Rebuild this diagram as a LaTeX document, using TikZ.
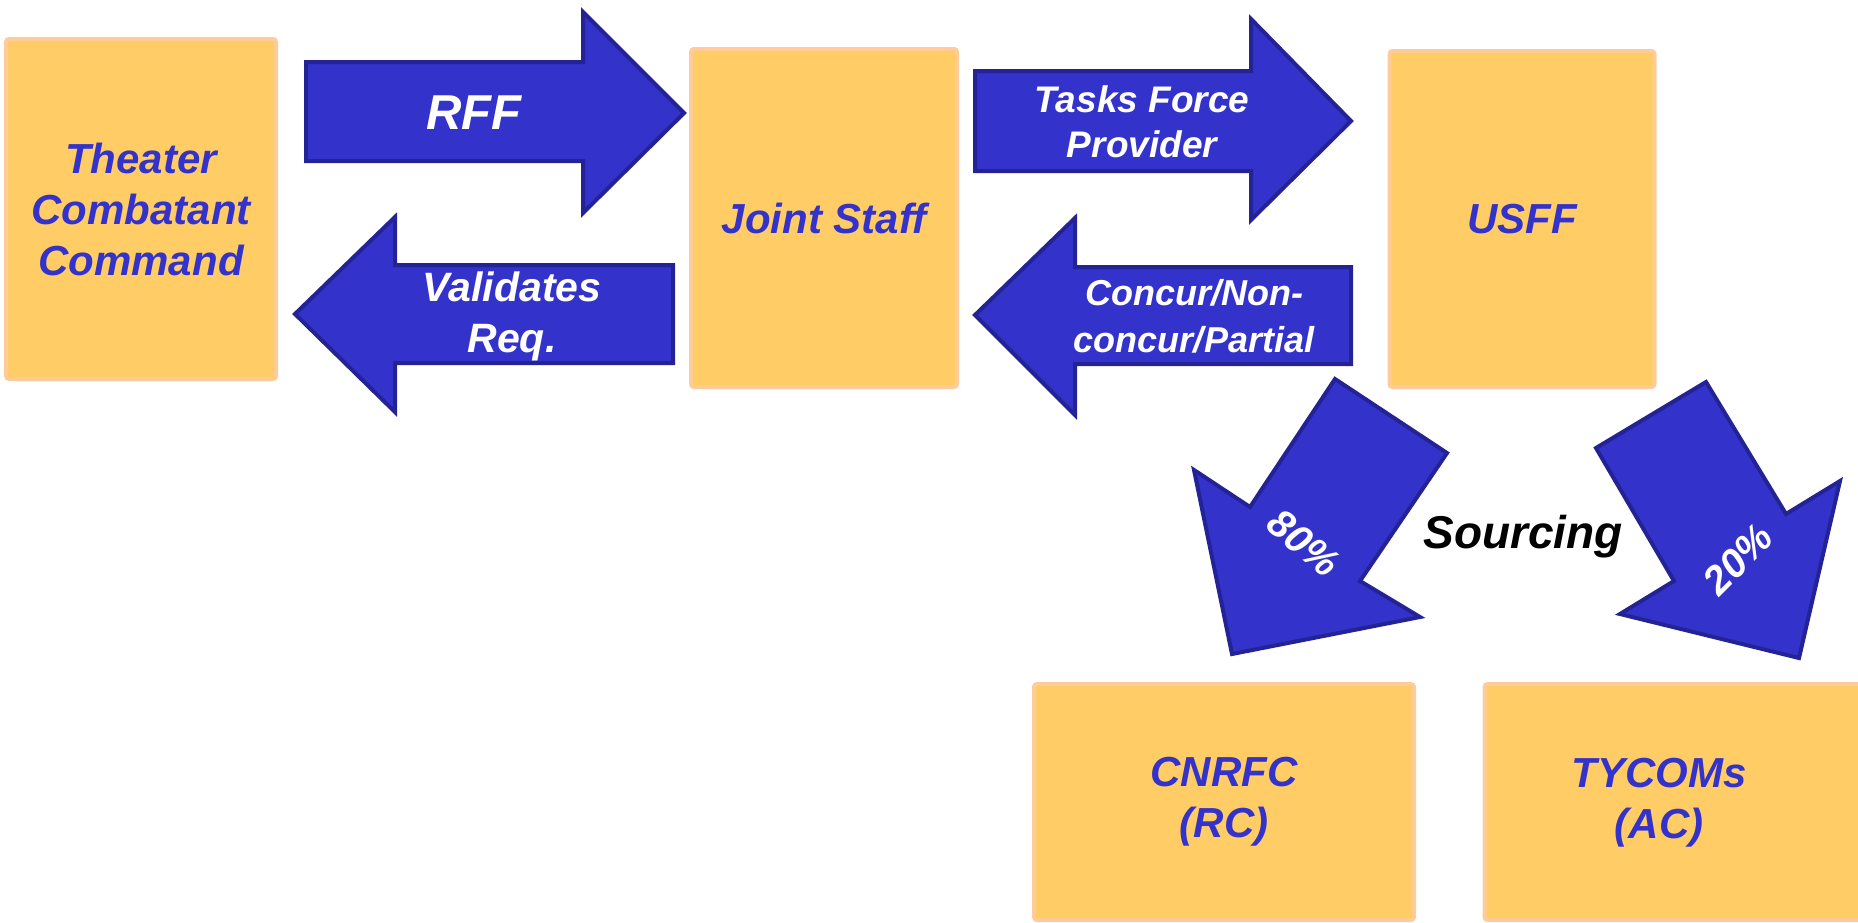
\documentclass[tikz,border=0pt]{standalone}
\usepackage{fontspec}
\setmainfont{Liberation Sans}
\definecolor{boxfill}{HTML}{FFCC66}
\definecolor{boxline}{HTML}{FFCC99}
\definecolor{arrfill}{HTML}{3333CC}
\definecolor{arrline}{HTML}{232396}
\begin{document}
\begin{tikzpicture}[x=1pt,y=-1pt,
  box/.style={draw=boxline, fill=boxfill, line width=4pt, rounded corners=3pt, inner sep=0pt,
    align=center, text=arrfill, font=\fontsize{42}{51}\selectfont\bfseries\itshape},
  boxtext/.style={inner sep=0pt, align=center, text=arrfill, font=\fontsize{42}{51}\selectfont\bfseries\itshape},
  blockarrow/.style={draw=arrline, fill=arrfill, line width=4pt, line join=miter},
  arrtext/.style={inner sep=0pt, align=center, text=white}]
\useasboundingbox (0,0) rectangle (1858,922);

% boxes
\node[box, minimum width=270pt, minimum height=340pt] (tcc) at (141,209) {Theater\\Combatant\\Command};
\node[box, minimum width=266pt, minimum height=338pt] (js) at (824,218) {Joint Staff};
\node[box, minimum width=265pt, minimum height=336pt] (usff) at (1522,219) {USFF};
\node[box, minimum width=380pt, minimum height=236pt] (cnrfc) at (1224,802) {CNRFC\\(RC)};
\node[box, minimum width=385pt, minimum height=236pt] (tycoms) at (1677,802) {};
\node[boxtext] (tycomstext) at (1659,803) {TYCOMs\\(AC)};

% block arrows
\draw[blockarrow] (306,62) -- (583,62) -- (583,12) -- (684,113) -- (583,213) -- (583,161) -- (306,161) -- cycle;
\draw[blockarrow] (673,265) -- (395,265) -- (395,217) -- (295,314) -- (395,412) -- (395,363) -- (673,363) -- cycle;
\draw[blockarrow] (975,71) -- (1251,71) -- (1251,19) -- (1351,121) -- (1251,220) -- (1251,171) -- (975,171) -- cycle;
\draw[blockarrow] (1351,267) -- (1075,267) -- (1075,218) -- (975,315) -- (1075,415) -- (1075,364) -- (1351,364) -- cycle;
\draw[blockarrow] (1335,379) -- (1447,453) -- (1360,581) -- (1420,617) -- (1232,654) -- (1194,470) -- (1250,507) -- cycle;
\draw[blockarrow] (1596,448) -- (1706,382) -- (1786,514) -- (1840,481) -- (1799,658) -- (1620,614) -- (1674,581) -- cycle;

% arrow labels
\node[arrtext, font=\fontsize{49}{58}\selectfont\bfseries\itshape] (rff) at (474,113) {RFF};
\node[arrtext, font=\fontsize{41}{51}\selectfont\bfseries\itshape] (val) at (512,316) {Validates\\Req.};
\node[arrtext, font=\fontsize{37}{45}\selectfont\bfseries\itshape] (tfp) at (1142,122) {Tasks Force\\Provider};
\node[arrtext, font=\fontsize{36}{47}\selectfont\bfseries\itshape] (conc) at (1194,316) {Concur/Non-\\concur/Partial};
\node[arrtext, rotate=-40, font=\fontsize{40}{46}\selectfont\bfseries\itshape] (p80) at (1304,543) {80\%};
\node[arrtext, rotate=45, font=\fontsize{40}{46}\selectfont\bfseries\itshape] (p20) at (1738,559) {20\%};
\node[inner sep=0pt, text=black, font=\fontsize{46}{55}\selectfont\bfseries\itshape] (src) at (1523,537) {Sourcing};
\end{tikzpicture}
\end{document}
